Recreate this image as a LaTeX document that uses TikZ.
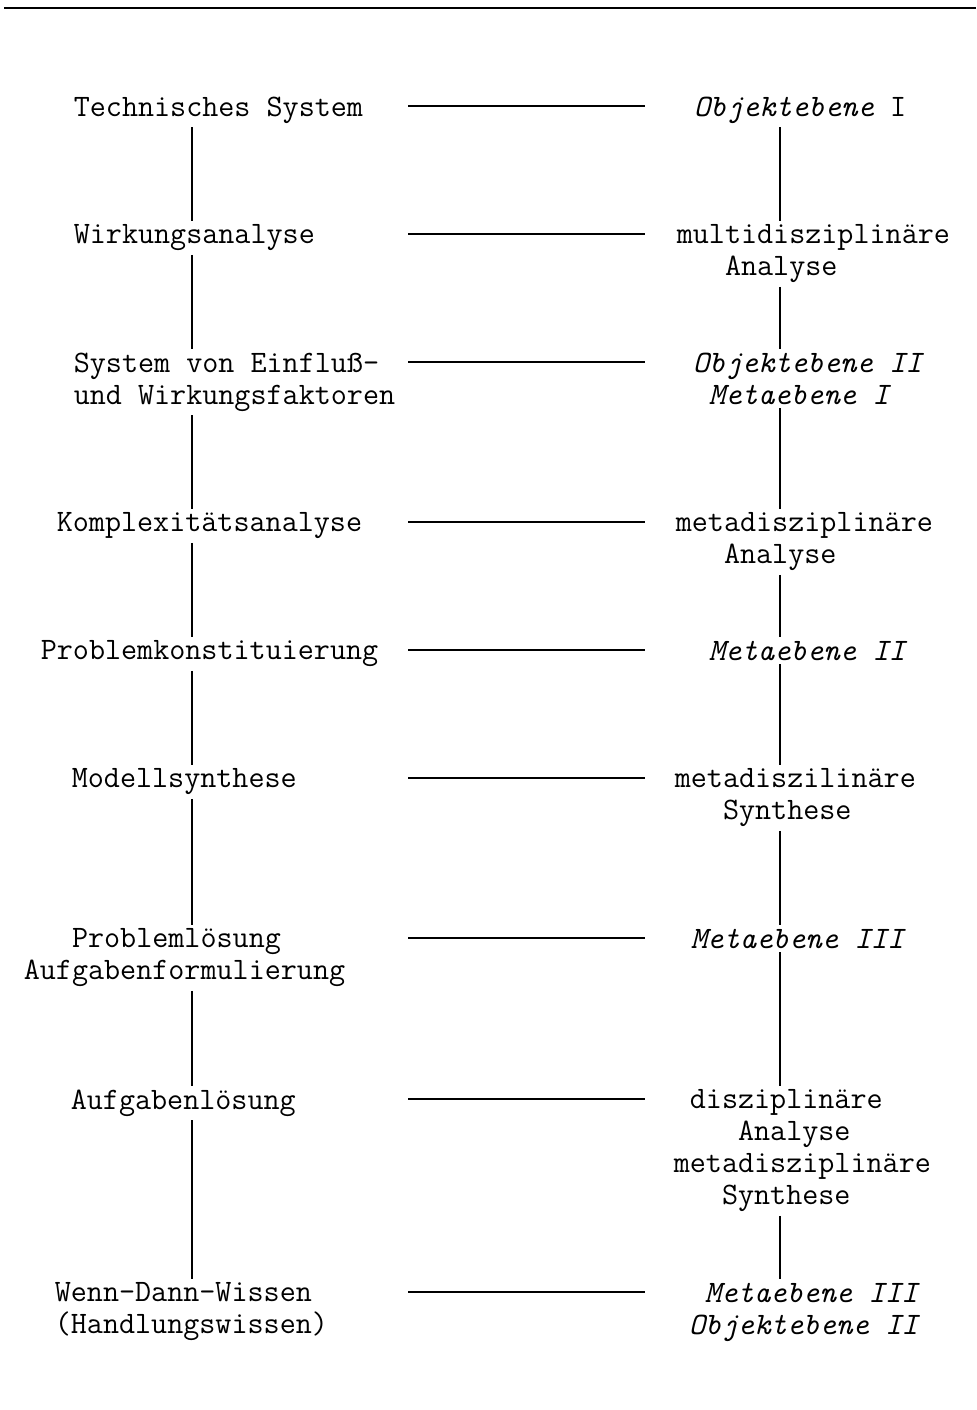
\documentclass[tikz,border=0pt]{standalone}
\usepackage{fontspec}

\begin{document}
\begin{tikzpicture}[x=0.5pt,y=-0.5pt,line width=0.8pt,
      txt/.style={anchor=north west,align=left,inner xsep=0pt,inner ysep=1.5pt,
                  font=\ttfamily\fontsize{15.6}{16}\selectfont}]
    \useasboundingbox (0,0) rectangle (976,1410);
    \draw[line width=1.4pt] (4,8) -- (976,8);
    % columns
    \coordinate (lx) at (192,0);
    \coordinate (rx) at (780,0);
    \coordinate (hl) at (408,0);
    % left column
    \node[txt] (l1) at (73,93)   {Technisches System};
    \node[txt] (l2) at (73,221)  {Wirkungsanalyse};
    \node[txt] (l3) at (73,349)  {System von Einfluß-\\und Wirkungsfaktoren};
    \node[txt] (l4) at (56,509)  {Komplexitätsanalyse};
    \node[txt] (l5) at (40,637)  {Problemkonstituierung};
    \node[txt] (l6) at (71,765)  {Modellsynthese};
    \node[txt] (l7) at (23,925)  {\hphantom{Auf}Problemlösung\\Aufgabenformulierung};
    \node[txt] (l8) at (70,1086) {Aufgabenlösung};
    \node[txt] (l9) at (54,1279) {Wenn-Dann-Wissen\\(Handlungswissen)};
    % right column
    \node[txt] (r1) at (693,93)   {\textit{Objektebene} I};
    \node[txt] (r2) at (676,221)  {multidisziplinäre\\\hphantom{mul}Analyse};
    \node[txt] (r3) at (692,349)  {\textit{Objektebene II}\\\hphantom{O}\textit{Metaebene I}};
    \node[txt] (r4) at (675,509)  {metadisziplinäre\\\hphantom{met}Analyse};
    \node[txt] (r5) at (708,637)  {\textit{Metaebene II}};
    \node[txt] (r6) at (674,765)  {metadiszilinäre\\\hphantom{met}Synthese};
    \node[txt] (r7) at (690,925)  {\textit{Metaebene III}};
    \node[txt] (r8) at (673,1086) {\hphantom{m}disziplinäre\\\hphantom{meta}Analyse\\metadisziplinäre\\\hphantom{met}Synthese};
    \node[txt] (r9) at (688,1279) {\hphantom{O}\textit{Metaebene III}\\\textit{Objektebene II}};
    % vertical links
    \draw (l1.south -| lx) -- (l2.north -| lx);
    \draw (l2.south -| lx) -- (l3.north -| lx);
    \draw (l3.south -| lx) -- (l4.north -| lx);
    \draw (l4.south -| lx) -- (l5.north -| lx);
    \draw (l5.south -| lx) -- (l6.north -| lx);
    \draw (l6.south -| lx) -- (l7.north -| lx);
    \draw (l7.south -| lx) -- (l8.north -| lx);
    \draw (l8.south -| lx) -- (l9.north -| lx);
    \draw (r1.south -| rx) -- (r2.north -| rx);
    \draw (r2.south -| rx) -- (r3.north -| rx);
    \draw (r3.south -| rx) -- (r4.north -| rx);
    \draw (r4.south -| rx) -- (r5.north -| rx);
    \draw (r5.south -| rx) -- (r6.north -| rx);
    \draw (r6.south -| rx) -- (r7.north -| rx);
    \draw (r7.south -| rx) -- (r8.north -| rx);
    \draw (r8.south -| rx) -- (r9.north -| rx);
    % horizontal links
    \draw (l1.north -| hl) ++(0,13) -- ++(237,0);
    \draw (l2.north -| hl) ++(0,13) -- ++(237,0);
    \draw (l3.north -| hl) ++(0,13) -- ++(237,0);
    \draw (l4.north -| hl) ++(0,13) -- ++(237,0);
    \draw (l5.north -| hl) ++(0,13) -- ++(237,0);
    \draw (l6.north -| hl) ++(0,13) -- ++(237,0);
    \draw (l7.north -| hl) ++(0,13) -- ++(237,0);
    \draw (l8.north -| hl) ++(0,13) -- ++(237,0);
    \draw (l9.north -| hl) ++(0,13) -- ++(237,0);
\end{tikzpicture}
\end{document}
